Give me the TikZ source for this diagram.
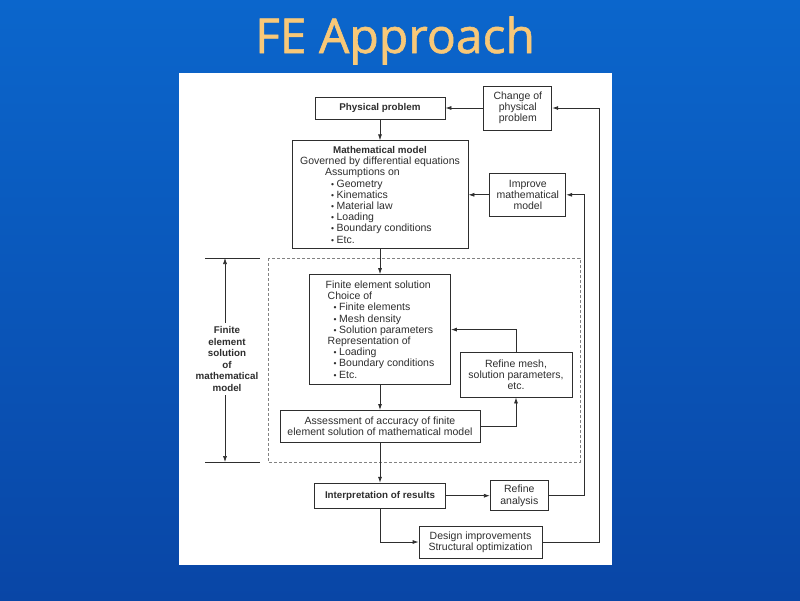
\documentclass[tikz,border=0pt]{standalone}
\usepackage{fontspec}
\setmainfont{Liberation Sans}
\newfontfamily\titlefont[FakeBold=1.2]{Open Sans}
\usepackage{tikz}
\usetikzlibrary{arrows.meta,positioning,calc}
\definecolor{slideblue}{HTML}{0B66CC}
\definecolor{slidedeep}{HTML}{0946A6}
\definecolor{titlegold}{HTML}{F8C878}
\definecolor{ink}{HTML}{2E2E2E}
\newcommand{\itm}[1]{\hspace*{6pt}{\fontsize{8.5}{8.5}\selectfont •}\hspace{2.5pt}#1}
\newcommand{\hd}[1]{{\fontsize{9.8}{11.2}\selectfont\bfseries #1}}

\begin{document}
\begin{tikzpicture}[x=1pt, y=-1pt,
  box/.style={draw=ink, line width=0.8pt, fill=white, text=ink, align=center, inner sep=0pt, font=\fontsize{10.5}{11.2}\selectfont},
  listbox/.style={box, align=left},
  arrow/.style={-{Latex[length=6pt, width=4pt]}, line width=0.8pt, draw=ink},
  dimline/.style={line width=0.6pt, draw=ink}
]
% slide background
\useasboundingbox (0,0) rectangle (800,600);
\shade[top color=slideblue, bottom color=slidedeep] (0,0) rectangle (800,600);
\node[font=\titlefont\fontsize{48}{48}\selectfont, text=titlegold, anchor=base] (title) at (395,53) {FE Approach};
\fill[white] (179,73) rectangle (612,565);

% main column
\node[box, minimum width=130pt, minimum height=22pt] (phys) at (380,108) {\hd{Physical problem}};
\node[listbox, minimum width=176pt, minimum height=108pt, below=21pt of phys] (math) {%
  \hspace*{33pt}\hd{Mathematical model}\\
  Governed by differential equations\\
  \hspace*{25pt}Assumptions on\\
  \hspace*{25pt}\itm{Geometry}\\
  \hspace*{25pt}\itm{Kinematics}\\
  \hspace*{25pt}\itm{Material law}\\
  \hspace*{25pt}\itm{Loading}\\
  \hspace*{25pt}\itm{Boundary conditions}\\
  \hspace*{25pt}\itm{Etc.}};
\node[listbox, minimum width=141pt, minimum height=110pt, below=25pt of math] (fesol) {%
  Finite element solution\\
  \hspace*{2pt}Choice of\\
  \hspace*{2pt}\itm{Finite elements}\\
  \hspace*{2pt}\itm{Mesh density}\\
  \hspace*{2pt}\itm{Solution parameters}\\
  \hspace*{2pt}Representation of\\
  \hspace*{2pt}\itm{Loading}\\
  \hspace*{2pt}\itm{Boundary conditions}\\
  \hspace*{2pt}\itm{Etc.}};
\node[box, minimum width=200pt, minimum height=32pt, below=25pt of fesol] (assess) {Assessment of accuracy of finite\\element solution of mathematical model};
\node[box, minimum width=131pt, minimum height=25pt, below=40pt of assess] (interp) {\hd{Interpretation of results}};

% side boxes
\node[box, minimum width=68pt, minimum height=44pt, right=38pt of phys] (change) {Change of\\physical\\problem};
\node[box, minimum width=76pt, minimum height=43pt, right=21pt of math] (improve) {Improve\\mathematical\\model};
\node[box, minimum width=112pt, minimum height=45pt] (refmesh) at (516,374.5) {Refine mesh,\\solution parameters,\\etc.};
\node[box, minimum width=58pt, minimum height=30pt, right=44pt of interp] (refana) {Refine\\analysis};
\node[box, minimum width=123pt, minimum height=32pt] (design) at (480.5,542) {Design improvements\\Structural optimization};

% dashed frame round the FE solution
\draw[ink!60, line width=0.6pt, dash pattern=on 3pt off 2pt] (268,258) rectangle (580,462);

% dimension on the left
\coordinate (dimtop) at (225,258);
\coordinate (dimbot) at (225,462);
\node[text=ink, align=center, font=\fontsize{9.8}{11.6}\selectfont\bfseries] (dimlabel) at (227,359) {Finite\\element\\solution\\of\\mathematical\\model};
\draw[dimline] (205,258) -- (260,258);
\draw[dimline] (205,462) -- (260,462);
\draw[arrow, line width=0.6pt] (dimlabel.north -| dimtop) -- (dimtop);
\draw[arrow, line width=0.6pt] (dimlabel.south -| dimbot) -- (dimbot);

% connectors
\draw[arrow] (phys) -- (math);
\draw[arrow] (math) -- (fesol);
\draw[arrow] (fesol) -- (assess);
\draw[arrow] (assess) -- (interp);
\draw[arrow] (change) -- (phys);
\draw[arrow] (improve) -- (math);
\draw[arrow] (assess.east) -| (refmesh.south);
\draw[arrow] (refmesh.north) |- (fesol.east);
\draw[arrow] (interp) -- (refana);
\draw[arrow] (interp.south) |- (design.west);
\draw[arrow] (refana.east) -- ++(36,0) |- (improve.east);
\draw[arrow] (design.east) -- ++(57,0) |- (change.east);
\end{tikzpicture}
\end{document}
